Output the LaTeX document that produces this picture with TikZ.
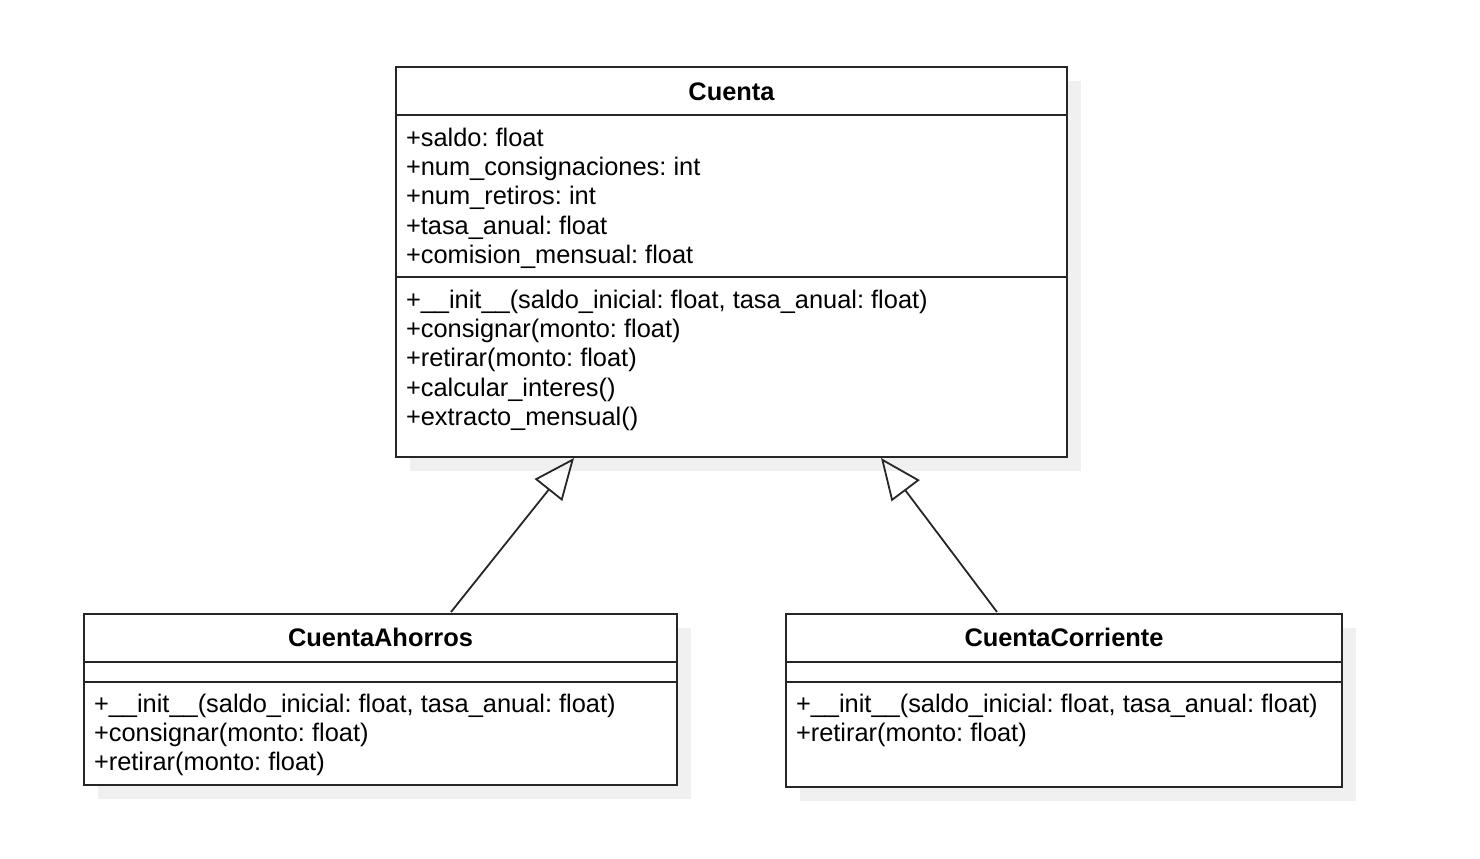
\documentclass[tikz,border=0pt]{standalone}
\usepackage{fontspec}
\setmainfont{Liberation Sans}
\usetikzlibrary{arrows.meta}
\frenchspacing
\begin{document}
\begin{tikzpicture}[x=1pt,y=-1pt,
  box/.style={draw=black!85, line width=1.8pt, fill=white, inner sep=0pt, outer sep=0pt, anchor=north west},
  shadowbox/.style={fill=black!6, draw=none, inner sep=0pt, outer sep=0pt, anchor=north west},
  sep/.style={draw=black!85, line width=1.8pt},
  txt/.style={inner sep=0pt, outer sep=0pt, anchor=base west, font=\frenchspacing\fontsize{25.4}{29.3}\selectfont},
  ttl/.style={inner sep=0pt, outer sep=0pt, anchor=base, font=\fontsize{25.4}{29.3}\selectfont\bfseries},
  inh/.style={draw=black!85, line width=1.8pt, -{Triangle[open, length=41pt, width=35pt, line width=1.8pt]}}
]
\useasboundingbox (0,0) rectangle (1480,859);
% shadows
\node[shadowbox, minimum width=671pt, minimum height=390pt] (cuentaS) at (410,81) {};
\node[shadowbox, minimum width=593pt, minimum height=171pt] (ahorrosS) at (98,628) {};
\node[shadowbox, minimum width=556pt, minimum height=173pt] (corrS) at (800,628) {};
% boxes
\node[box, minimum width=671pt, minimum height=390pt] (cuenta) at (396,67) {};
\node[box, minimum width=593pt, minimum height=171pt] (ahorros) at (84,614) {};
\node[box, minimum width=556pt, minimum height=173pt] (corr) at (786,614) {};
% separators
\draw[sep] (cuenta.north west) ++(0,48) -- ++(671,0);
\draw[sep] (cuenta.north west) ++(0,210) -- ++(671,0);
\draw[sep] (ahorros.north west) ++(0,48) -- ++(593,0);
\draw[sep] (ahorros.north west) ++(0,68) -- ++(593,0);
\draw[sep] (corr.north west) ++(0,48) -- ++(556,0);
\draw[sep] (corr.north west) ++(0,68) -- ++(556,0);
% Cuenta
\node[ttl] (cT) at (731.5,100.5) {Cuenta};
\node[txt] (c1) at (406,146) {+saldo: float};
\node[txt] (c2) at (406,175.3) {+num\_consignaciones: int};
\node[txt] (c3) at (406,204.6) {+num\_retiros: int};
\node[txt] (c4) at (406,234) {+tasa\_anual: float};
\node[txt] (c5) at (406,263.2) {+comision\_mensual: float};
\node[txt] (m1) at (406,308) {+\_\_init\_\_(saldo\_inicial: float, tasa\_anual: float)};
\node[txt] (m2) at (406,337.3) {+consignar(monto: float)};
\node[txt] (m3) at (406,366.6) {+retirar(monto: float)};
\node[txt] (m4) at (406,396) {+calcular\_interes()};
\node[txt] (m5) at (406,425.2) {+extracto\_mensual()};
% CuentaAhorros
\node[ttl] (aT) at (380.5,646.5) {CuentaAhorros};
\node[txt] (a1) at (94,712) {+\_\_init\_\_(saldo\_inicial: float, tasa\_anual: float)};
\node[txt] (a2) at (94,741.3) {+consignar(monto: float)};
\node[txt] (a3) at (94,770.6) {+retirar(monto: float)};
% CuentaCorriente
\node[ttl] (rT) at (1064,646.5) {CuentaCorriente};
\node[txt] (r1) at (796,712) {+\_\_init\_\_(saldo\_inicial: float, tasa\_anual: float)};
\node[txt] (r2) at (796,741.3) {+retirar(monto: float)};
% connectors
\coordinate (aTop) at (451,612);
\coordinate (rTop) at (997,612);
\coordinate (cL) at (574,458);
\coordinate (cR) at (881,458);
\draw[inh] (aTop) -- (cL);
\draw[inh] (rTop) -- (cR);
\end{tikzpicture}
\end{document}
